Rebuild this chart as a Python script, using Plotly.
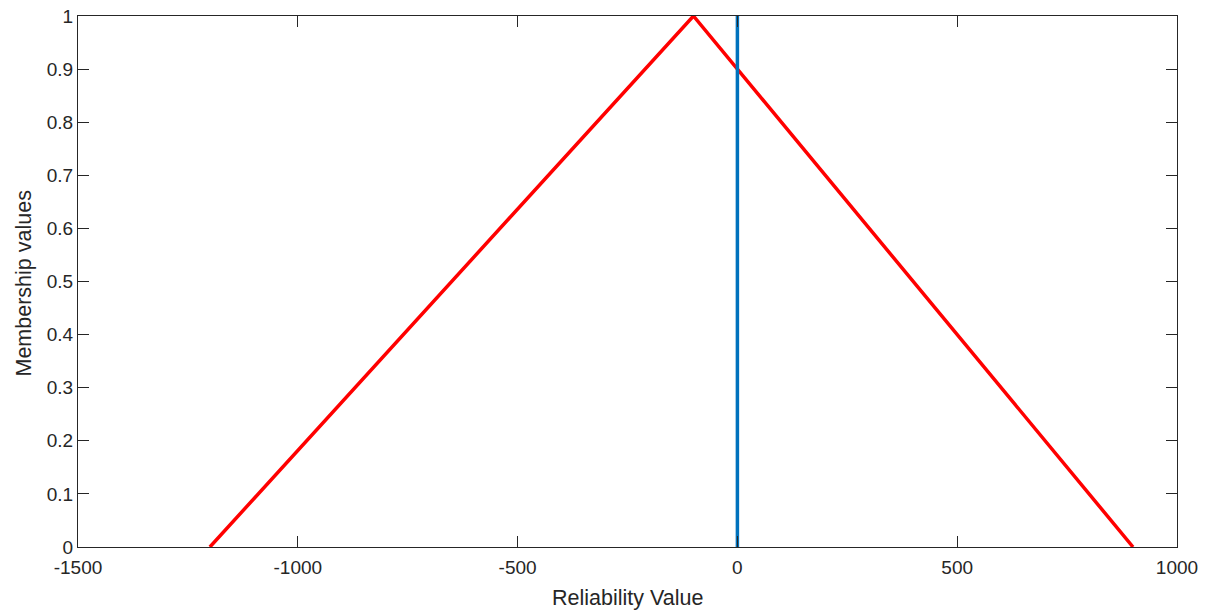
import plotly.graph_objects as go

# Data
red_x = [-1200, -100, 900]
red_y = [0, 1, 0]
blue_x = [0, 0]
blue_y = [0, 1]
x_ticks = [-1500, -1000, -500, 0, 500, 1000]
y_ticks = [0, 0.1, 0.2, 0.3, 0.4, 0.5, 0.6, 0.7, 0.8, 0.9, 1]
y_tick_labels = ["0", "0.1", "0.2", "0.3", "0.4", "0.5", "0.6", "0.7", "0.8", "0.9", "1"]
x_title = "Reliability Value"
y_title = "Membership values"

FONT = "Liberation Sans, Arial, sans-serif"
TXT = "#262626"

fig = go.Figure()
fig.add_trace(go.Scatter(x=red_x, y=red_y, mode="lines",
                         line=dict(color="#FF0000", width=3.5), showlegend=False))
fig.add_trace(go.Scatter(x=blue_x, y=blue_y, mode="lines",
                         line=dict(color="#0072BD", width=3.5), showlegend=False))

axis_common = dict(showgrid=False, zeroline=False, showline=True, linecolor=TXT,
                   linewidth=1.3, mirror="ticks", ticks="inside", ticklen=11,
                   tickcolor=TXT, tickwidth=1.2, automargin=False,
                   tickfont=dict(family=FONT, size=19, color=TXT))

fig.update_layout(
    width=1211, height=612,
    margin=dict(l=78, r=34, t=16, b=65),
    plot_bgcolor="white", paper_bgcolor="white",
    xaxis=dict(range=[-1500, 1000], tickvals=x_ticks, ticktext=[str(v) for v in x_ticks],
               ticklabelstandoff=3, **axis_common),
    yaxis=dict(range=[0, 1], tickvals=y_ticks, ticktext=y_tick_labels,
               **axis_common),
    annotations=[
        dict(text=x_title, xref="paper", yref="paper", x=0.5, y=0,
             xanchor="center", yanchor="middle", yshift=-51, showarrow=False,
             font=dict(family=FONT, size=21.5, color=TXT)),
        dict(text=y_title, xref="paper", yref="paper", x=0, y=0.5,
             xanchor="center", yanchor="middle", xshift=-55, yshift=-2, textangle=-90,
             showarrow=False, font=dict(family=FONT, size=21.5, color=TXT)),
    ],
)

fig.write_html("out.html", config={"displayModeBar": False},
               post_script="document.body.style.margin='0';document.body.style.overflow='hidden';")
